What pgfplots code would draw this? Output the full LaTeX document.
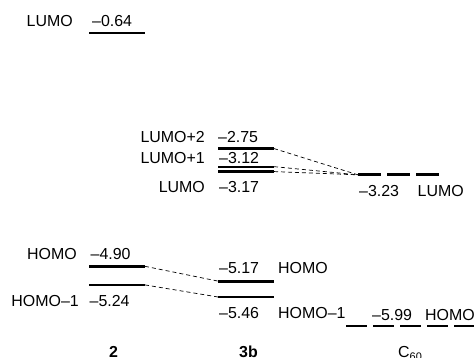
\documentclass[border=0pt]{standalone}
\usepackage{pgfplots}
\pgfplotsset{compat=1.18}
\usepackage{fontspec}
\setmainfont{Liberation Sans}
\begin{document}
\begin{tikzpicture}[lab/.style={font=\fontsize{16}{19}\selectfont, inner sep=0pt}]
\begin{axis}[
  width=474bp, height=358bp, scale only axis, hide axis, clip=false,
  xmin=0, xmax=474, ymin=-6.574, ymax=-0.0375,
  lev/.style={black, line width=2.8bp, line cap=butt},
  con/.style={black, line width=0.7bp, dash pattern=on 4bp off 3bp},
]
% compound 2
\addplot[lev] coordinates {(89,-0.64) (145,-0.64)};
\addplot[lev] coordinates {(89,-4.90) (145,-4.90)};
\addplot[lev] coordinates {(89,-5.24) (145,-5.24)};
% compound 3b
\addplot[lev] coordinates {(218,-2.75) (274,-2.75)};
\addplot[lev, line width=2.2bp] coordinates {(218,-3.08) (274,-3.08)};
\addplot[lev, line width=2.2bp] coordinates {(218,-3.17) (274,-3.17)};
\addplot[lev] coordinates {(218,-5.17) (274,-5.17)};
\addplot[lev] coordinates {(218,-5.46) (274,-5.46)};
% C60 (degenerate levels)
\addplot[lev, dash pattern=on 23bp off 6bp] coordinates {(358,-3.23) (440,-3.23)};
\addplot[lev, dash pattern=on 20.5bp off 6.5bp] coordinates {(346,-5.99) (490,-5.99)};
% connectors
\addplot[con] coordinates {(145,-4.90) (218,-5.17)};
\addplot[con] coordinates {(145,-5.24) (218,-5.46)};
\addplot[con] coordinates {(274,-2.75) (358,-3.23)};
\addplot[con] coordinates {(274,-3.08) (358,-3.23)};
\addplot[con] coordinates {(274,-3.17) (358,-3.23)};
% labels for 2
\node[lab, anchor=base east, yshift=6bp] at (axis cs:73,-0.64) {LUMO};
\node[lab, anchor=base west, yshift=6bp] at (axis cs:92,-0.64) {–0.64};
\node[lab, anchor=base east, yshift=7bp] at (axis cs:77,-4.90) {HOMO};
\node[lab, anchor=base west, yshift=7bp] at (axis cs:90.5,-4.90) {–4.90};
\node[lab, anchor=base east, yshift=-21.5bp] at (axis cs:79,-5.24) {HOMO–1};
\node[lab, anchor=base west, yshift=-21.5bp] at (axis cs:89.5,-5.24) {–5.24};
% labels for 3b
\node[lab, anchor=base east, yshift=6bp] at (axis cs:205,-2.75) {LUMO+2};
\node[lab, anchor=base west, yshift=6bp] at (axis cs:218,-2.75) {–2.75};
\node[lab, anchor=base east, yshift=3.5bp] at (axis cs:205,-3.08) {LUMO+1};
\node[lab, anchor=base west, yshift=3.5bp] at (axis cs:219,-3.08) {–3.12};
\node[lab, anchor=base east, yshift=-20.5bp] at (axis cs:205,-3.17) {LUMO};
\node[lab, anchor=base west, yshift=-20.5bp] at (axis cs:219,-3.17) {–3.17};
\node[lab, anchor=base west, yshift=7.5bp] at (axis cs:219,-5.17) {–5.17};
\node[lab, anchor=base west, yshift=7.5bp] at (axis cs:278,-5.17) {HOMO};
\node[lab, anchor=base west, yshift=-21.7bp] at (axis cs:219,-5.46) {–5.46};
\node[lab, anchor=base west, yshift=-21.7bp] at (axis cs:278,-5.46) {HOMO–1};
% labels for C60
\node[lab, anchor=base west, yshift=-21.7bp] at (axis cs:359,-3.23) {–3.23};
\node[lab, anchor=base west, yshift=-21.7bp] at (axis cs:417.5,-3.23) {LUMO};
\node[lab, anchor=base west, yshift=6bp] at (axis cs:372,-5.99) {–5.99};
\node[lab, anchor=base west, yshift=6bp] at (axis cs:425,-5.99) {HOMO};
% compound names
\node[lab, anchor=base, font=\fontsize{16}{19}\selectfont\bfseries, yshift=0.4bp] at (axis cs:113.5,-6.574) {2};
\node[lab, anchor=base, font=\fontsize{16}{19}\selectfont\bfseries, yshift=0.4bp] at (axis cs:248.5,-6.574) {3b};
\node[lab, anchor=base, yshift=0.4bp] at (axis cs:410,-6.574) {C\raisebox{-0.35ex}{\fontsize{11}{12}\selectfont 60}};
\end{axis}
\pgfresetboundingbox
\path[use as bounding box] (0,0) rectangle (474bp,358bp);
\end{tikzpicture}
\end{document}
